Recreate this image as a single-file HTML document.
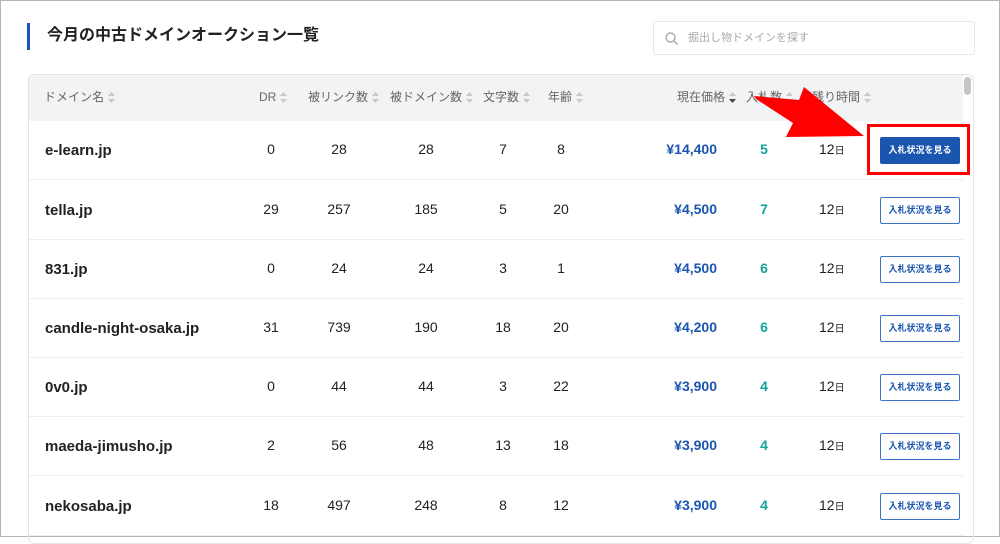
<!DOCTYPE html>
<html><head><meta charset="utf-8"><style>
*{margin:0;padding:0;box-sizing:border-box}
body{width:1000px;height:537px;overflow:hidden;background:#fff;font-family:"Liberation Sans","Noto Sans CJK JP",sans-serif;position:relative;border:1px solid #b5b5b5;line-height:16px}
.abs{position:absolute}
.title{left:26px;top:22px;height:27px;border-left:3px solid #1a56b0;padding-left:17px;font-size:16px;font-weight:bold;color:#222;line-height:26px}
.search{left:652px;top:20px;width:322px;height:34px;border:1px solid #e8e8e8;border-radius:3px;font-size:11px;color:#aaa;line-height:32px;padding-left:34px}
.card{left:27px;top:73px;width:946px;height:470px;border:1px solid #e5e5e5;border-radius:6px;overflow:hidden}
.hdr{left:0;top:0;width:934px;height:46px;background:#f2f3f5}
.h{font-size:12px;color:#666;top:14px;white-space:nowrap;line-height:16px;height:16px}
.s{display:inline-block;vertical-align:top;margin:3px 0 0 4px}
.row{left:0;width:934px;height:59px;border-bottom:1px solid #eee}
.row div{line-height:16px}
.c{font-size:14px;color:#222;top:20px;text-align:center;width:60px;margin-left:-30px}
.d{font-size:15px;font-weight:bold;color:#222;left:16px;top:22px}
.p{font-size:14px;font-weight:bold;color:#1a56b0;top:20px;width:100px;right:246px;text-align:right}
.b{font-size:14px;font-weight:bold;color:#12a39a;top:20px;width:40px;left:715px;text-align:center}
.t{font-size:14px;color:#222;top:20px;left:790px}
.t small{font-size:10px}
.row .btn{left:851px;top:16px;width:80px;height:27px;border:1px solid #3f73c8;border-radius:2px;color:#1a56b0;font-size:9px;font-weight:bold;text-align:center;line-height:25px;background:#fff}
.row .btn.f{background:#1a56b0;color:#fff;border-color:#1a56b0}
.sb{left:935px;top:2px;width:7px;height:18px;background:#c6c6c6;border-radius:4px}
</style></head><body>
<div class="abs title">今月の中古ドメインオークション一覧</div>
<div class="abs search"><svg class="abs" style="left:11px;top:10px" width="13" height="13"><circle cx="5.5" cy="5.5" r="4.5" fill="none" stroke="#aaa" stroke-width="1.4"/><line x1="9" y1="9" x2="12.5" y2="12.5" stroke="#aaa" stroke-width="1.5"/></svg>掘出し物ドメインを探す</div>
<div class="abs card">
<div class="abs hdr">
<div class="abs h" style="left:15px">ドメイン名<svg class="s" width="7" height="11"><path d="M3.5 0L7 4H0z M3.5 11L7 7H0z" fill="#c8c8c8"/></svg></div>
<div class="abs h" style="left:230px">DR<svg class="s" width="7" height="11"><path d="M3.5 0L7 4H0z M3.5 11L7 7H0z" fill="#c8c8c8"/></svg></div>
<div class="abs h" style="left:279px">被リンク数<svg class="s" width="7" height="11"><path d="M3.5 0L7 4H0z M3.5 11L7 7H0z" fill="#c8c8c8"/></svg></div>
<div class="abs h" style="left:361px">被ドメイン数<svg class="s" width="7" height="11"><path d="M3.5 0L7 4H0z M3.5 11L7 7H0z" fill="#c8c8c8"/></svg></div>
<div class="abs h" style="left:454px">文字数<svg class="s" width="7" height="11"><path d="M3.5 0L7 4H0z M3.5 11L7 7H0z" fill="#c8c8c8"/></svg></div>
<div class="abs h" style="left:519px">年齢<svg class="s" width="7" height="11"><path d="M3.5 0L7 4H0z M3.5 11L7 7H0z" fill="#c8c8c8"/></svg></div>
<div class="abs h" style="left:648px">現在価格<svg class="s" width="7" height="11"><path d="M3.5 0L7 4H0z" fill="#c8c8c8"/><path d="M3.5 11L7 7H0z" fill="#444"/></svg></div>
<div class="abs h" style="left:717px">入札数<svg class="s" width="7" height="11"><path d="M3.5 0L7 4H0z M3.5 11L7 7H0z" fill="#c8c8c8"/></svg></div>
<div class="abs h" style="left:783px">残り時間<svg class="s" width="7" height="11"><path d="M3.5 0L7 4H0z M3.5 11L7 7H0z" fill="#c8c8c8"/></svg></div>
</div>
<div class="abs sb"></div>
<div class="abs row" style="top:46px"><div class="abs d">e-learn.jp</div><div class="abs c" style="left:242px">0</div><div class="abs c" style="left:310px">28</div><div class="abs c" style="left:397px">28</div><div class="abs c" style="left:474px">7</div><div class="abs c" style="left:532px">8</div><div class="abs p">¥14,400</div><div class="abs b">5</div><div class="abs t">12<small>日</small></div><div class="abs btn f">入札状況を見る</div></div>
<div class="abs row" style="top:106px"><div class="abs d">tella.jp</div><div class="abs c" style="left:242px">29</div><div class="abs c" style="left:310px">257</div><div class="abs c" style="left:397px">185</div><div class="abs c" style="left:474px">5</div><div class="abs c" style="left:532px">20</div><div class="abs p">¥4,500</div><div class="abs b">7</div><div class="abs t">12<small>日</small></div><div class="abs btn">入札状況を見る</div></div>
<div class="abs row" style="top:165px"><div class="abs d">831.jp</div><div class="abs c" style="left:242px">0</div><div class="abs c" style="left:310px">24</div><div class="abs c" style="left:397px">24</div><div class="abs c" style="left:474px">3</div><div class="abs c" style="left:532px">1</div><div class="abs p">¥4,500</div><div class="abs b">6</div><div class="abs t">12<small>日</small></div><div class="abs btn">入札状況を見る</div></div>
<div class="abs row" style="top:224px"><div class="abs d">candle-night-osaka.jp</div><div class="abs c" style="left:242px">31</div><div class="abs c" style="left:310px">739</div><div class="abs c" style="left:397px">190</div><div class="abs c" style="left:474px">18</div><div class="abs c" style="left:532px">20</div><div class="abs p">¥4,200</div><div class="abs b">6</div><div class="abs t">12<small>日</small></div><div class="abs btn">入札状況を見る</div></div>
<div class="abs row" style="top:283px"><div class="abs d">0v0.jp</div><div class="abs c" style="left:242px">0</div><div class="abs c" style="left:310px">44</div><div class="abs c" style="left:397px">44</div><div class="abs c" style="left:474px">3</div><div class="abs c" style="left:532px">22</div><div class="abs p">¥3,900</div><div class="abs b">4</div><div class="abs t">12<small>日</small></div><div class="abs btn">入札状況を見る</div></div>
<div class="abs row" style="top:342px"><div class="abs d">maeda-jimusho.jp</div><div class="abs c" style="left:242px">2</div><div class="abs c" style="left:310px">56</div><div class="abs c" style="left:397px">48</div><div class="abs c" style="left:474px">13</div><div class="abs c" style="left:532px">18</div><div class="abs p">¥3,900</div><div class="abs b">4</div><div class="abs t">12<small>日</small></div><div class="abs btn">入札状況を見る</div></div>
<div class="abs row" style="top:402px"><div class="abs d">nekosaba.jp</div><div class="abs c" style="left:242px">18</div><div class="abs c" style="left:310px">497</div><div class="abs c" style="left:397px">248</div><div class="abs c" style="left:474px">8</div><div class="abs c" style="left:532px">12</div><div class="abs p">¥3,900</div><div class="abs b">4</div><div class="abs t">12<small>日</small></div><div class="abs btn">入札状況を見る</div></div>
</div>
<svg class="abs" style="left:0;top:0" width="1000" height="537">
<polygon points="753,95 798,99 803,86 863,135 785,136 792,122 755,98" fill="#f00"/>
<rect x="867.5" y="124.5" width="100" height="48" fill="none" stroke="#f00" stroke-width="3"/>
</svg>
</body></html>
